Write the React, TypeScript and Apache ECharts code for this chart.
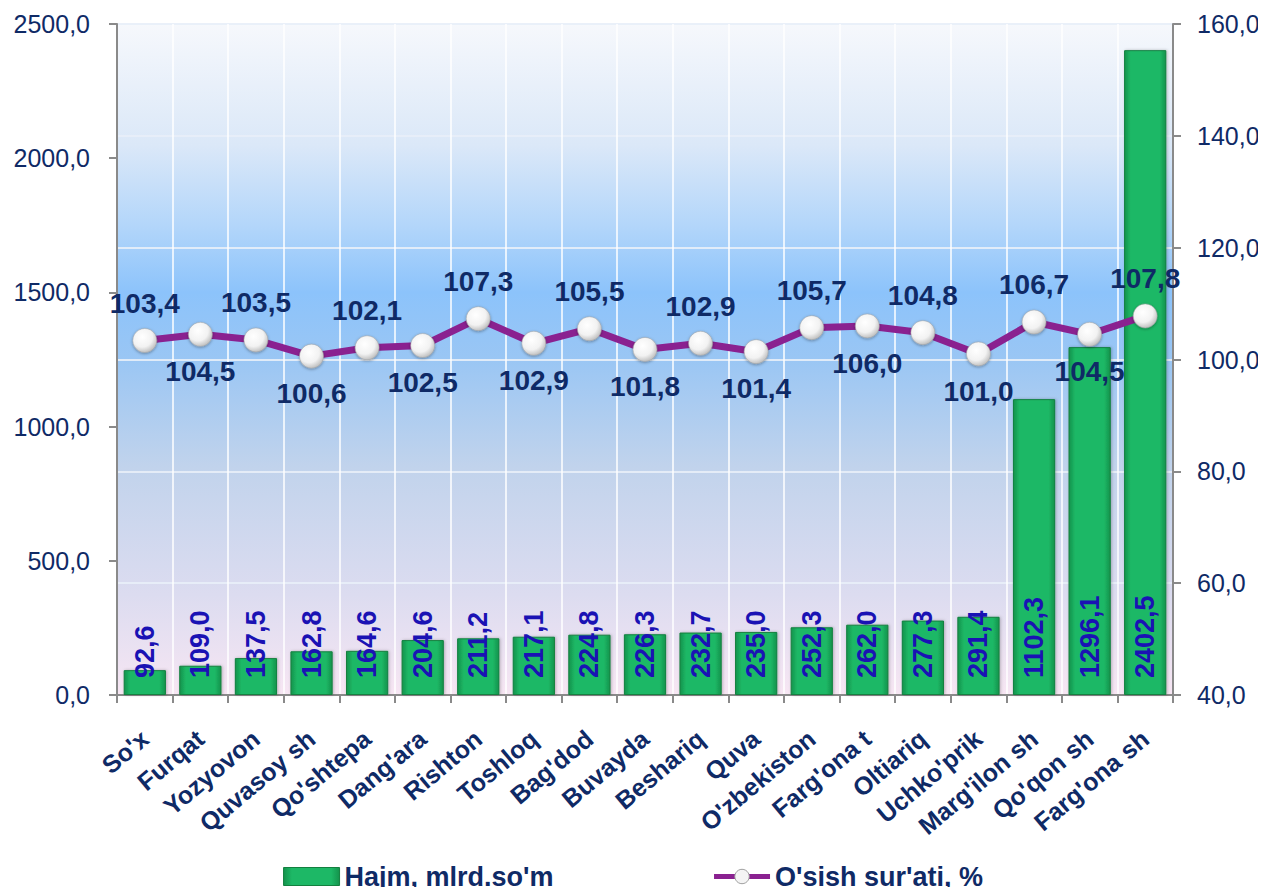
import React, { useEffect, useRef } from "react";
import * as echarts from "echarts";

const categories = ["So'x", "Furqat", "Yozyovon", "Quvasoy sh", "Qo'shtepa", "Dang'ara", "Rishton", "Toshloq", "Bag'dod", "Buvayda", "Beshariq", "Quva", "O'zbekiston", "Farg'ona t", "Oltiariq", "Uchko'prik", "Marg'ilon sh", "Qo'qon sh", "Farg'ona sh"];
const volume = [92.6, 109.0, 137.5, 162.8, 164.6, 204.6, 211.2, 217.1, 224.8, 226.3, 232.7, 235.0, 252.3, 262.0, 277.3, 291.4, 1102.3, 1296.1, 2402.5];
const growth = [103.4, 104.5, 103.5, 100.6, 102.1, 102.5, 107.3, 102.9, 105.5, 101.8, 102.9, 101.4, 105.7, 106.0, 104.8, 101.0, 106.7, 104.5, 107.8];
const labelSide = ["top", "bottom", "top", "bottom", "top", "bottom", "top", "bottom", "top", "bottom", "top", "bottom", "top", "bottom", "top", "bottom", "top", "bottom", "top"];
const seriesNames = ["Hajm, mlrd.so'm", "O'sish sur'ati, %"];

const fmt = (v: number) => v.toFixed(1).replace(".", ",");
const NAVY = "#0f2a66";

export default function App() {
  const ref = useRef<HTMLDivElement>(null);
  useEffect(() => {
    const chart = echarts.init(ref.current!, null, { renderer: "svg" });
    const barGrad = new echarts.graphic.LinearGradient(0, 0, 1, 0, [
      { offset: 0, color: "#14934c" },
      { offset: 0.15, color: "#1db866" },
      { offset: 0.85, color: "#1db866" },
      { offset: 1, color: "#14934c" },
    ]);
    const markerGrad = new echarts.graphic.RadialGradient(0.4, 0.35, 0.7, [
      { offset: 0, color: "#ffffff" },
      { offset: 0.6, color: "#f2f2f2" },
      { offset: 1, color: "#b8b8b8" },
    ]);
    chart.setOption({
      animation: false,
      backgroundColor: "#ffffff",
      textStyle: { fontFamily: "Liberation Sans, Arial, sans-serif" },
      grid: {
        left: 117,
        right: 93,
        top: 24,
        bottom: 200,
        show: true,
        borderWidth: 0,
        backgroundColor: new echarts.graphic.LinearGradient(0, 0, 0, 1, [
          { offset: 0, color: "#f6f8fc" },
          { offset: 0.18, color: "#dbe8f8" },
          { offset: 0.3, color: "#b3d6fa" },
          { offset: 0.4, color: "#8cc3fb" },
          { offset: 0.5, color: "#9ac6f4" },
          { offset: 0.66, color: "#c1d3ec" },
          { offset: 0.85, color: "#dcdcf0" },
          { offset: 1, color: "#f7e6f3" },
        ]),
      },
      legend: {
        bottom: 0,
        left: "center",
        itemGap: 158,
        itemWidth: 56,
        itemHeight: 18,
        textStyle: { color: NAVY, fontSize: 27, fontWeight: "bold" },
        data: [
          { name: seriesNames[0], icon: "rect", itemStyle: { borderColor: "#13803f", borderWidth: 1 } },
          {
            name: seriesNames[1],
            lineStyle: { width: 5, color: "#8a2190" },
            itemStyle: { color: "#f4f4f4", borderColor: "#a0a0a0", borderWidth: 1 },
          },
        ],
      },
      xAxis: {
        type: "category",
        data: categories,
        axisLine: { lineStyle: { color: "#8a8a8a", width: 2 } },
        axisTick: { show: true, length: 8, lineStyle: { color: "#8a8a8a", width: 2 } },
        splitLine: { show: true, lineStyle: { color: "#ffffff", width: 1.5 } },
        axisLabel: {
          rotate: 40,
          interval: 0,
          color: NAVY,
          fontSize: 25,
          fontWeight: "bold",
          margin: 40,
        },
      },
      yAxis: [
        {
          type: "value",
          min: 0,
          max: 2500,
          interval: 500,
          position: "left",
          axisLine: { show: true, lineStyle: { color: "#8a8a8a", width: 2 } },
          axisTick: { show: true, length: 8, lineStyle: { color: "#8a8a8a", width: 2 } },
          splitLine: { show: false },
          axisLabel: { color: NAVY, fontSize: 25, formatter: (v: number) => fmt(v), margin: 27 },
        },
        {
          type: "value",
          min: 40,
          max: 160,
          interval: 20,
          position: "right",
          axisLine: { show: true, lineStyle: { color: "#8a8a8a", width: 2 } },
          axisTick: { show: true, length: 8, lineStyle: { color: "#8a8a8a", width: 2 } },
          splitLine: { show: true, lineStyle: { color: "#e8eef8", width: 2, opacity: 0.9 } },
          axisLabel: { color: NAVY, fontSize: 25, formatter: (v: number) => fmt(v), margin: 24 },
        },
      ],
      series: [
        {
          name: seriesNames[0],
          type: "bar",
          yAxisIndex: 0,
          data: volume,
          barWidth: "76%",
          itemStyle: {
            color: barGrad,
            borderColor: "#13803f",
            borderWidth: 1,
            shadowColor: "rgba(0,0,0,0.25)",
            shadowBlur: 3,
            shadowOffsetX: 1,
          },
          label: {
            show: true,
            position: "insideBottom",
            rotate: 90,
            align: "left",
            verticalAlign: "middle",
            distance: 17,
            color: "#1a12b4",
            fontSize: 27,
            fontWeight: "bold",
            formatter: (p: any) => fmt(p.value),
          },
        },
        {
          name: seriesNames[1],
          type: "line",
          yAxisIndex: 1,
          data: growth.map((v, i) => ({
            value: v,
            label: { position: labelSide[i] },
          })),
          lineStyle: { color: "#8a2190", width: 7 },
          symbol: "circle",
          symbolSize: 24,
          itemStyle: {
            color: markerGrad,
            borderColor: "#a0a0a0",
            borderWidth: 0.5,
            shadowColor: "rgba(0,0,0,0.35)",
            shadowBlur: 3,
            shadowOffsetY: 1,
          },
          label: {
            show: true,
            distance: 11,
            color: NAVY,
            fontSize: 28,
            fontWeight: "bold",
            formatter: (p: any) => fmt(p.value),
          },
          z: 5,
        },
      ],
    });
    return () => chart.dispose();
  }, []);
  return <div ref={ref} style={{ width: 1266, height: 895, margin: -8 }} />;
}
